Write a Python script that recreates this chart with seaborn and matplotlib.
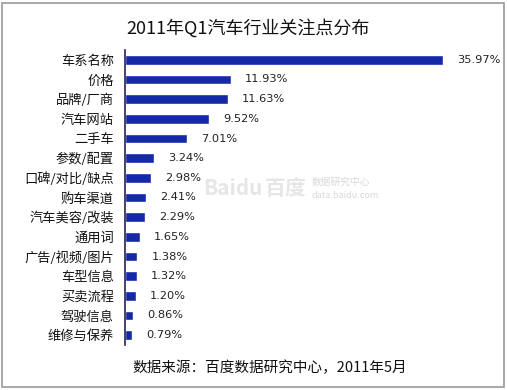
import matplotlib
matplotlib.use('Agg')
import matplotlib.pyplot as plt
import seaborn as sns
from matplotlib.patches import Rectangle

cats = ['车系名称', '价格', '品牌/厂商', '汽车网站', '二手车', '参数/配置', '口碑/对比/缺点',
        '购车渠道', '汽车美容/改装', '通用词', '广告/视频/图片', '车型信息', '买卖流程',
        '驾驶信息', '维修与保养']
vals = [35.97, 11.93, 11.63, 9.52, 7.01, 3.24, 2.98, 2.41, 2.29, 1.65, 1.38, 1.32, 1.20, 0.86, 0.79]
title = '2011年Q1汽车行业关注点分布'
source = '数据来源：百度数据研究中心，2011年5月'

sns.set_style('white')
plt.rcParams['font.family'] = ['Noto Sans CJK SC', 'DejaVu Sans']

fig = plt.figure(figsize=(5.07, 3.90), dpi=100)
ax = fig.add_axes([125 / 507, 1 - 345 / 390, 354 / 507, 295 / 390])

sns.barplot(x=vals, y=cats, orient='h', color='#1428a8', width=0.5,
            saturation=1, ax=ax)
ax.set_xlim(0, 40)
ax.set_ylim(14.5, -0.5)
ax.set_xlabel('')
ax.set_ylabel('')
ax.set_xticks([])
ax.tick_params(axis='y', length=0, pad=8, labelsize=9.5, colors='#111111')
for s in ['top', 'right', 'bottom']:
    ax.spines[s].set_visible(False)
ax.spines['left'].set_color('#222255')
ax.spines['left'].set_linewidth(1.2)

for i, v in enumerate(vals):
    ax.text(v + 1.6, i, f'{v:.2f}%', va='center', ha='left', fontsize=8.2,
            color='#222222', family=['DejaVu Sans'])

# watermark (kept clear of the value labels)
fig.text(203 / 507, 1 - 188 / 390, 'Baidu', fontsize=15, color='#e6e6e6', weight='bold',
         va='center', zorder=0)
fig.text(265 / 507, 1 - 188 / 390, '百度', fontsize=15, color='#e6e6e6', weight='bold',
         va='center', zorder=0)
fig.text(312 / 507, 1 - 182 / 390, '数据研究中心', fontsize=7, color='#d8d8d8',
         va='center', zorder=0)
fig.text(312 / 507, 1 - 196 / 390, 'data.baidu.com', fontsize=6.5, color='#d8d8d8',
         va='center', zorder=0)

fig.text(248 / 507, 1 - 28 / 390, title, ha='center', va='center', fontsize=13, color='#111111')
fig.text(270 / 507, 1 - 368 / 390, source, ha='center', va='center', fontsize=10.5, color='#111111')

fig.patches.append(Rectangle((2 / 507, 3 / 390), 502 / 507, 384 / 390, transform=fig.transFigure,
                             fill=False, edgecolor='#999999', linewidth=1.2))

fig.savefig('out.png', dpi=100)
